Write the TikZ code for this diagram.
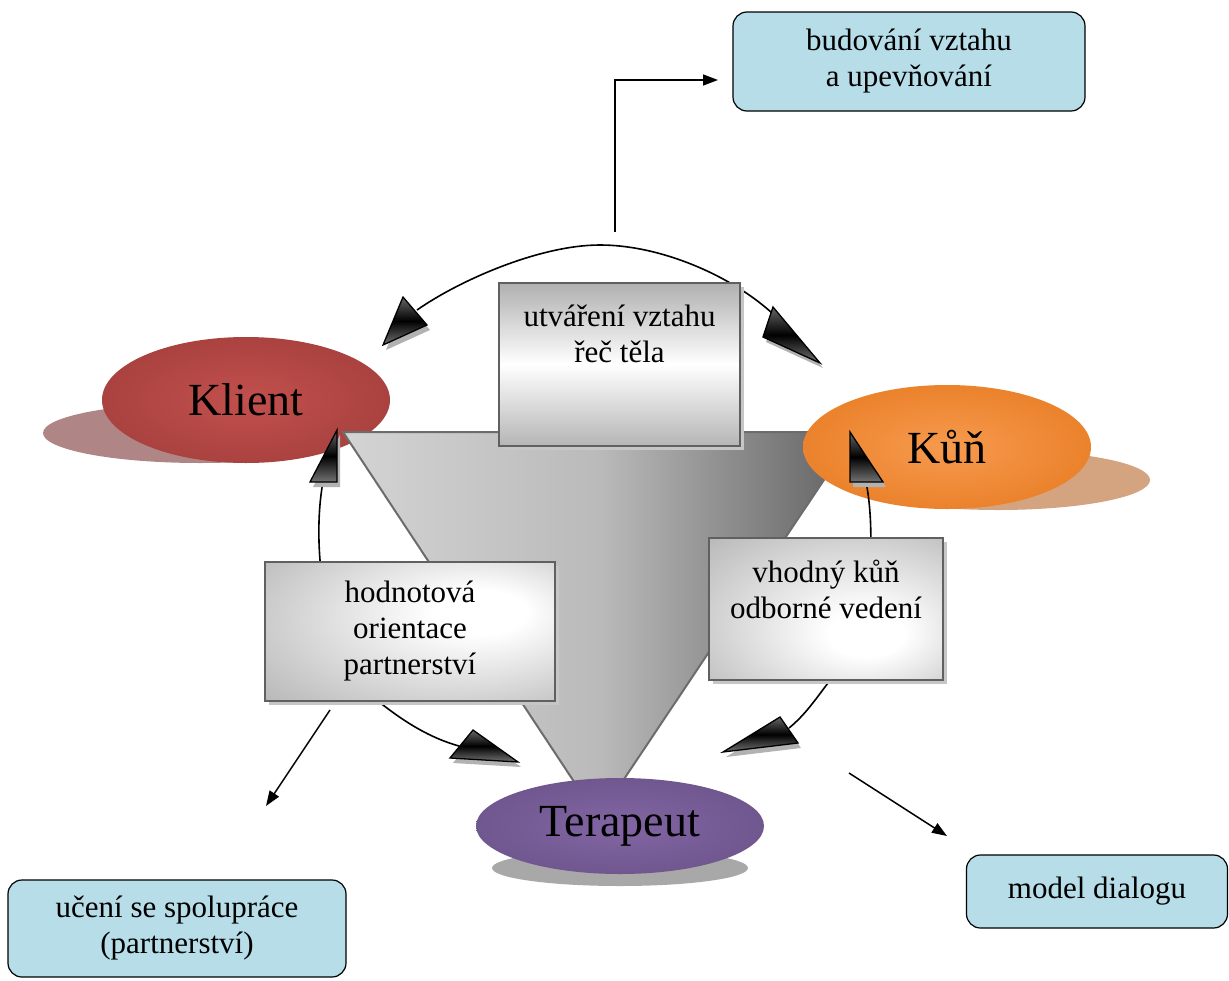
\documentclass[tikz,border=0pt]{standalone}
\usepackage{fontspec}
\setmainfont{Liberation Serif}
\usetikzlibrary{shapes.geometric,arrows.meta,shadows}
\definecolor{kred}{HTML}{913432}
\definecolor{kredin}{HTML}{C2504D}
\definecolor{korange}{HTML}{E06A0A}
\definecolor{korangein}{HTML}{F69A4E}
\definecolor{kpurple}{HTML}{5E4879}
\definecolor{kpurplein}{HTML}{8266A4}
\definecolor{kblue}{HTML}{B7DDE8}
\definecolor{shred}{HTML}{B08585}
\definecolor{shorange}{HTML}{D3A47F}
\definecolor{shgray}{HTML}{A8A8A8}
\definecolor{boxedge}{HTML}{8A8A8A}
\definecolor{boxwhite}{HTML}{FFFFFF}
\pgfdeclareradialshading{redglow}{\pgfpoint{0bp}{0bp}}{color(0bp)=(kredin); color(50bp)=(kred)}
\pgfdeclareradialshading{orangeglow}{\pgfpoint{0bp}{0bp}}{color(0bp)=(korangein); color(50bp)=(korange)}
\pgfdeclareradialshading{purpleglow}{\pgfpoint{0bp}{0bp}}{color(0bp)=(kpurplein); color(50bp)=(kpurple)}
\pgfdeclareradialshading{boxglowA}{\pgfpoint{14bp}{8bp}}{color(0bp)=(boxwhite); color(8bp)=(boxwhite); color(62bp)=(boxedge)}
\pgfdeclareradialshading{boxglowB}{\pgfpoint{10bp}{-10bp}}{color(0bp)=(boxwhite); color(8bp)=(boxwhite); color(62bp)=(boxedge)}
\newcommand\drawhead[3]{%
  \fill[ashadow] ([shift={(3,5)}]#1) -- ([shift={(3,5)}]#2) -- ([shift={(3,5)}]#3) -- cycle;
  \draw[ahead] (#1) -- (#2) -- (#3) -- cycle;}
\begin{document}
\begin{tikzpicture}[x=1pt,y=-1pt,
  ell/.style={ellipse, inner sep=0pt, draw=none, font=\fontsize{46}{50}\selectfont},
  gbox/.style={rectangle, inner sep=0pt, draw=gray!75!black, line width=2pt,
    drop shadow={shadow xshift=4pt, shadow yshift=-4pt, fill=gray!45, opacity=1}},
  bbox/.style={rectangle, rounded corners=14pt, draw=black, line width=1.2pt, fill=kblue, inner sep=0pt},
  txt/.style={font=\fontsize{31}{36}\selectfont, align=center, inner sep=0pt},
  arcline/.style={line width=1.6pt},
  ahead/.style={draw=black, line width=1.3pt, line join=miter, top color=black!60, bottom color=black!55, middle color=black},
  ashadow/.style={fill=gray!60, draw=none},
  pointer/.style={line width=1.5pt, -{Triangle[length=15pt,width=11pt]}},
  tri/.style={draw=gray!85!black, line width=2pt, left color=black!17, right color=black!62, middle color=black!27},
]
\useasboundingbox (0,0) rectangle (1229,980);

% shadows of ellipses
\fill[shred] (200,433) ellipse [x radius=157, y radius=30];
\fill[shorange] (998,480) ellipse [x radius=152, y radius=30];
\fill[shgray] (620,868) ellipse [x radius=128, y radius=18];

% Klient
\node[ell, shading=redglow, minimum width=288pt, minimum height=126pt] (klient) at (246,400) {Klient};

% central triangle
\coordinate (tl) at (343,432);
\coordinate (tr) at (856,432);
\coordinate (ap) at (598,818);
\draw[tri] (tl) -- (tr) -- (ap) -- cycle;

% Kůň and Terapeut
\node[ell, shading=orangeglow, minimum width=288pt, minimum height=124pt] (kun) at (947,447) {Kůň};
\node[ell, shading=purpleglow, minimum width=288pt, minimum height=96pt] (terapeut) at (620,826) {Terapeut};

% arc end points
\coordinate (h1) at (417,310);
\coordinate (h2) at (772,313);
\coordinate (h3) at (323,482);
\coordinate (h4) at (866,482);
\coordinate (h5) at (459,746);
\coordinate (h6) at (789,728);
\coordinate (top) at (600,245);
\coordinate (lmid) at (383,705);
\coordinate (rmid) at (828,683);

\draw[arcline] (h1) .. controls (460,280) and (540,245) .. (top)
                    .. controls (660,245) and (730,275) .. (h2);
\draw[arcline] (h3) .. controls (312,540) and (320,660) .. (lmid)
                    .. controls (405,722) and (430,738) .. (h5);
\draw[arcline] (h4) .. controls (874,520) and (878,625) .. (rmid)
                    .. controls (815,700) and (805,715) .. (h6);

% arrowheads
\drawhead{383,345}{403,297}{427,325}
\drawhead{820,363}{773,307}{763,337}
\drawhead{337,430}{310,482}{337,482}
\drawhead{850,432}{850,482}{883,482}
\drawhead{518,762}{473,730}{450,758}
\drawhead{723,752}{780,717}{798,743}

% gray boxes
\node[gbox, minimum width=241pt, minimum height=163pt, top color=gray!62, bottom color=gray!58, middle color=white] (utv) at (619.5,364.5) {};
\node[txt] (utvt) at (619.5,334) {utváření vztahu\\řeč těla};
\node[gbox, shading=boxglowA, minimum width=290pt, minimum height=139pt, txt] (hod) at (410,631.5) {hodnotová\\orientace\\partnerství};
\node[gbox, shading=boxglowB, minimum width=234pt, minimum height=142pt] (vho) at (826,609) {};
\node[txt] (vhot) at (826,589) {vhodný kůň\\odborné vedení};

% blue boxes
\node[bbox, txt, minimum width=352pt, minimum height=99pt] (bud) at (909,61.5) {budování vztahu\\a upevňování};
\node[bbox, txt, minimum width=338pt, minimum height=97pt] (uce) at (177,928.5) {učení se spolupráce\\(partnerství)};
\node[bbox, txt, minimum width=261pt, minimum height=73pt] (mod) at (1097,891.5) {model dialogu};

% pointer arrows
\coordinate (p1s) at (615,232);
\coordinate (p1e) at (718,80);
\coordinate (p2s) at (330,710);
\coordinate (p2e) at (266,806);
\coordinate (p3s) at (849,773);
\coordinate (p3e) at (947,836);
\draw[pointer] (p1s) |- (p1e);
\draw[pointer] (p2s) -- (p2e);
\draw[pointer] (p3s) -- (p3e);
\end{tikzpicture}
\end{document}
